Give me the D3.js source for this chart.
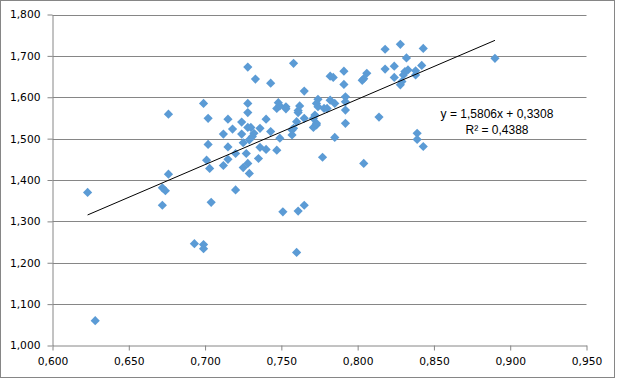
<!DOCTYPE html>
<html>
<head>
<meta charset="utf-8">
<script src="https://cdn.jsdelivr.net/npm/d3@7"></script>
<style>
  html, body { margin: 0; padding: 0; background: #fff; }
  svg { display: block; }
</style>
</head>
<body>
<svg id="chart" width="617" height="380"></svg>
<script>
// ---- data ----
const xValues = [0.623,0.628,0.676,0.676,0.672,0.674,0.672,0.699,0.702,0.702,0.701,0.703,0.704,0.693,0.699,0.699,
  0.715,0.712,0.715,0.718,0.715,0.712,0.720,0.720,0.724,0.724,0.725,0.725,0.728,0.728,0.728,0.728,0.730,0.727,0.728,0.729,
  0.729,0.731,0.732,0.733,0.736,0.736,0.735,0.740,0.740,0.743,0.743,0.747,0.747,0.748,0.749,0.749,0.753,0.753,0.751,0.758,
  0.757,0.757,0.758,0.760,0.761,0.762,0.761,0.761,0.760,0.765,0.765,0.765,0.771,0.773,0.773,0.771,0.774,0.773,0.774,0.772,
  0.778,0.780,0.777,0.782,0.784,0.782,0.785,0.785,0.791,0.791,0.792,0.792,0.792,0.792,0.803,0.804,0.806,0.804,0.814,0.818,
  0.818,0.824,0.824,0.828,0.828,0.829,0.830,0.832,0.831,0.833,0.838,0.838,0.842,0.843,0.839,0.839,0.843,0.890];
const yValues = [1.370,1.060,1.559,1.414,1.381,1.374,1.339,1.585,1.549,1.486,1.448,1.428,1.346,1.246,1.244,1.234,
  1.547,1.511,1.480,1.523,1.450,1.435,1.464,1.376,1.540,1.511,1.490,1.430,1.673,1.585,1.563,1.527,1.527,1.464,1.440,1.416,
  1.497,1.505,1.513,1.644,1.525,1.479,1.452,1.547,1.474,1.634,1.517,1.472,1.573,1.587,1.579,1.501,1.577,1.572,1.323,1.682,
  1.509,1.521,1.525,1.541,1.563,1.579,1.568,1.325,1.225,1.339,1.615,1.549,1.527,1.533,1.537,1.549,1.595,1.585,1.577,1.557,
  1.573,1.573,1.455,1.651,1.648,1.593,1.585,1.503,1.663,1.631,1.601,1.589,1.569,1.537,1.641,1.645,1.658,1.440,1.552,1.716,
  1.668,1.675,1.648,1.728,1.630,1.638,1.654,1.695,1.662,1.666,1.654,1.664,1.677,1.718,1.513,1.498,1.481,1.694];
const xTicks = [0.60,0.65,0.70,0.75,0.80,0.85,0.90,0.95];
const yTicks = [1.0,1.1,1.2,1.3,1.4,1.5,1.6,1.7,1.8];
const trendSlope = 1.5806;
const trendIntercept = 0.3308;
const equationLines = ["y = 1,5806x + 0,3308", "R² = 0,4388"];

const points = xValues.map((xv, i) => ({x: xv, y: yValues[i]}));

// ---- layout ----
const svg = d3.select("#chart");
const plotLeft = 52.5, plotRight = 586.5, plotTop = 14.5, plotBottom = 345.5;
const xScale = d3.scaleLinear().domain([0.6, 0.95]).range([plotLeft, plotRight]);
const yScale = d3.scaleLinear().domain([1.0, 1.8]).range([plotBottom, plotTop]);
const fmt = v => d3.format(".3f")(v).replace(".", ",");
const gray = "#868686";
const axisFont = "'DejaVu Sans', Verdana, sans-serif";

// outer border
svg.append("rect").attr("x", 0.5).attr("y", 0.5).attr("width", 614).attr("height", 377)
  .attr("fill", "#fff").attr("stroke", gray).attr("stroke-width", 1);

// horizontal gridlines
svg.append("g").selectAll("line").data(yTicks.filter(t => t > 1.0)).join("line")
  .attr("x1", plotLeft).attr("x2", plotRight)
  .attr("y1", d => Math.round(yScale(d)) + 0.5).attr("y2", d => Math.round(yScale(d)) + 0.5)
  .attr("stroke", gray).attr("stroke-width", 1);

// y axis
const yAxisG = svg.append("g").attr("transform", `translate(${plotLeft},0)`)
  .call(d3.axisLeft(yScale).tickValues(yTicks).tickFormat(fmt).tickSize(5).tickSizeOuter(0).tickPadding(7));
// x axis
const xAxisG = svg.append("g").attr("transform", `translate(0,${plotBottom})`)
  .call(d3.axisBottom(xScale).tickValues(xTicks).tickFormat(fmt).tickSize(5).tickSizeOuter(0).tickPadding(7));

[yAxisG, xAxisG].forEach(g => {
  g.select(".domain").attr("stroke", gray);
  g.selectAll(".tick line").attr("stroke", gray);
  g.selectAll(".tick text").attr("fill", "#000").style("font-family", axisFont).style("font-size", "10.7px");
});

// markers
const s = 4.6;
svg.append("g").selectAll("path").data(points).join("path")
  .attr("transform", d => `translate(${xScale(d.x)},${yScale(d.y)})`)
  .attr("d", `M0,${-s}L${s},0L0,${s}L${-s},0Z`)
  .attr("fill", "#5B9BD5");

// trendline
const xExt = d3.extent(xValues);
svg.append("line")
  .attr("x1", xScale(xExt[0])).attr("y1", yScale(trendSlope * xExt[0] + trendIntercept))
  .attr("x2", xScale(xExt[1])).attr("y2", yScale(trendSlope * xExt[1] + trendIntercept))
  .attr("stroke", "#000").attr("stroke-width", 1);

// equation
svg.append("g").selectAll("text").data(equationLines).join("text")
  .attr("x", 497).attr("y", (d, i) => 118 + i * 16)
  .attr("text-anchor", "middle")
  .style("font-family", "'Liberation Sans', Arial, sans-serif").style("font-size", "12px")
  .attr("fill", "#000")
  .text(d => d);
</script>
</body>
</html>
